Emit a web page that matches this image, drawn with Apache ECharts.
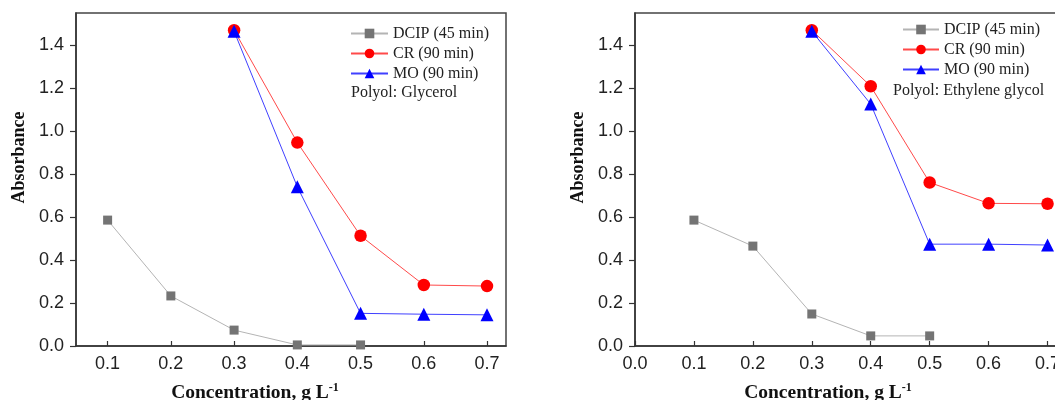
<!DOCTYPE html>
<html><head><meta charset="utf-8">
<script src="https://cdn.jsdelivr.net/npm/echarts@6/dist/echarts.min.js"></script>
<style>html,body{margin:0;padding:0;background:#fff}#c{width:1055px;height:400px}</style>
</head><body><div id="c"></div>
<script>
const concentration = [0.1, 0.2, 0.3, 0.4, 0.5, 0.6, 0.7];
// Polyol: Glycerol
const glyDCIP = [0.586, 0.233, 0.074, 0.005, 0.005, null, null];
const glyCR   = [null, null, 1.47, 0.947, 0.513, 0.284, 0.279];
const glyMO   = [null, null, 1.465, 0.741, 0.152, 0.148, 0.145];
// Polyol: Ethylene glycol
const egDCIP = [0.586, 0.465, 0.149, 0.047, 0.047, null, null];
const egCR   = [null, null, 1.47, 1.209, 0.761, 0.664, 0.662];
const egMO   = [null, null, 1.465, 1.126, 0.474, 0.474, 0.47];

const seriesNames = ['DCIP (45 min)', 'CR (90 min)', 'MO (90 min)'];
const yTicks = [0, 0.2, 0.4, 0.6, 0.8, 1.0, 1.2, 1.4];
const xTicksLeft = [0.1, 0.2, 0.3, 0.4, 0.5, 0.6, 0.7];
const xTicksRight = [0.0, 0.1, 0.2, 0.3, 0.4, 0.5, 0.6, 0.7];
const notes = ['Polyol: Glycerol', 'Polyol: Ethylene glycol'];

const sans = 'Liberation Sans, Arial, sans-serif';
const serif = 'Liberation Serif, Times New Roman, serif';
const axisColor = '#333';

function pairs(arr) {
  return concentration.map((x, i) => arr[i] == null ? null : [x, arr[i]]).filter(p => p);
}

const styles = [
  { symbol: 'rect', symbolSize: 9, color: '#747474', line: '#b4b4b4' },
  { symbol: 'circle', symbolSize: 12.5, color: '#ff0000', line: '#ff4a4a' },
  { symbol: 'triangle', symbolSize: 13, color: '#0000ff', line: '#4040ff' }
];

function mkSeries(idx, datasets) {
  return datasets.map((d, k) => ({
    type: 'line', name: seriesNames[k], xAxisIndex: idx, yAxisIndex: idx,
    data: pairs(d), symbol: styles[k].symbol, symbolSize: styles[k].symbolSize,
    itemStyle: { color: styles[k].color },
    lineStyle: { color: styles[k].line, width: 1 },
    z: 2 + k, animation: false
  }));
}

function xAxis(idx, min, max, ticks, pad) {
  return {
    type: 'value', gridIndex: idx, min: min, max: max,
    name: 'Concentration, g L{sup|-1}', nameLocation: 'middle', nameGap: 36,
    nameTextStyle: { fontFamily: serif, fontWeight: 'bold', fontSize: 19.5, color: '#111', padding: pad,
      rich: { sup: { fontFamily: serif, fontWeight: 'bold', fontSize: 12, color: '#111', verticalAlign: 'top', padding: [0, 0, 9, 0] } } },
    axisLine: { show: true, lineStyle: { color: axisColor, width: 1.5 } },
    axisTick: { show: true, inside: true, length: 5, customValues: ticks, lineStyle: { color: axisColor, width: 1.2 } },
    axisLabel: { customValues: ticks, formatter: v => v.toFixed(1), fontFamily: sans, fontSize: 18, color: '#222', margin: 9 },
    splitLine: { show: false }
  };
}
function yAxis(idx) {
  return {
    type: 'value', gridIndex: idx, min: 0, max: 1.55,
    name: 'Absorbance', nameLocation: 'middle', nameGap: 48,
    nameTextStyle: { fontFamily: serif, fontWeight: 'bold', fontSize: 18, color: '#111', padding: [0, 0, 0, 44] },
    axisLine: { show: true, lineStyle: { color: axisColor, width: 1.5 } },
    axisTick: { show: true, inside: false, length: 6, customValues: yTicks, lineStyle: { color: axisColor, width: 1.2 } },
    axisLabel: { customValues: yTicks, formatter: v => v.toFixed(1), fontFamily: sans, fontSize: 18, color: '#222', margin: 12 },
    splitLine: { show: false }
  };
}
function legend(left, top, w) {
  return {
    left: left, top: top, orient: 'vertical', itemWidth: w, itemHeight: 12, itemGap: 4, padding: 0,
    data: seriesNames, selectedMode: false,
    textStyle: { fontFamily: serif, fontSize: 16, color: '#222' }
  };
}

const chart = echarts.init(document.getElementById('c'), null, { renderer: 'canvas' });
chart.setOption({
  animation: false,
  backgroundColor: '#fff',
  grid: [
    { left: 76, top: 13, width: 430, height: 333, show: true, borderColor: '#444', borderWidth: 1.5, containLabel: false, outerBoundsMode: 'none' },
    { left: 635, top: 13, width: 442, height: 333, show: true, borderColor: '#444', borderWidth: 1.5, containLabel: false, outerBoundsMode: 'none' }
  ],
  xAxis: [xAxis(0, 0.05, 0.73, xTicksLeft, [0, 72, 0, 0]), xAxis(1, 0, 0.75, xTicksRight, [0, 56, 0, 0])],
  yAxis: [yAxis(0), yAxis(1)],
  legend: [legend(350, 25.5, 37), legend(902, 21.5, 36)],
  graphic: [
    { type: 'text', left: 351, top: 85, style: { text: notes[0], font: '16px ' + serif, fill: '#222' } },
    { type: 'text', left: 893, top: 82.5, style: { text: notes[1], font: '16px ' + serif, fill: '#222' } }
  ],
  series: [...mkSeries(0, [glyDCIP, glyCR, glyMO]), ...mkSeries(1, [egDCIP, egCR, egMO])]
});
</script>
</body></html>
